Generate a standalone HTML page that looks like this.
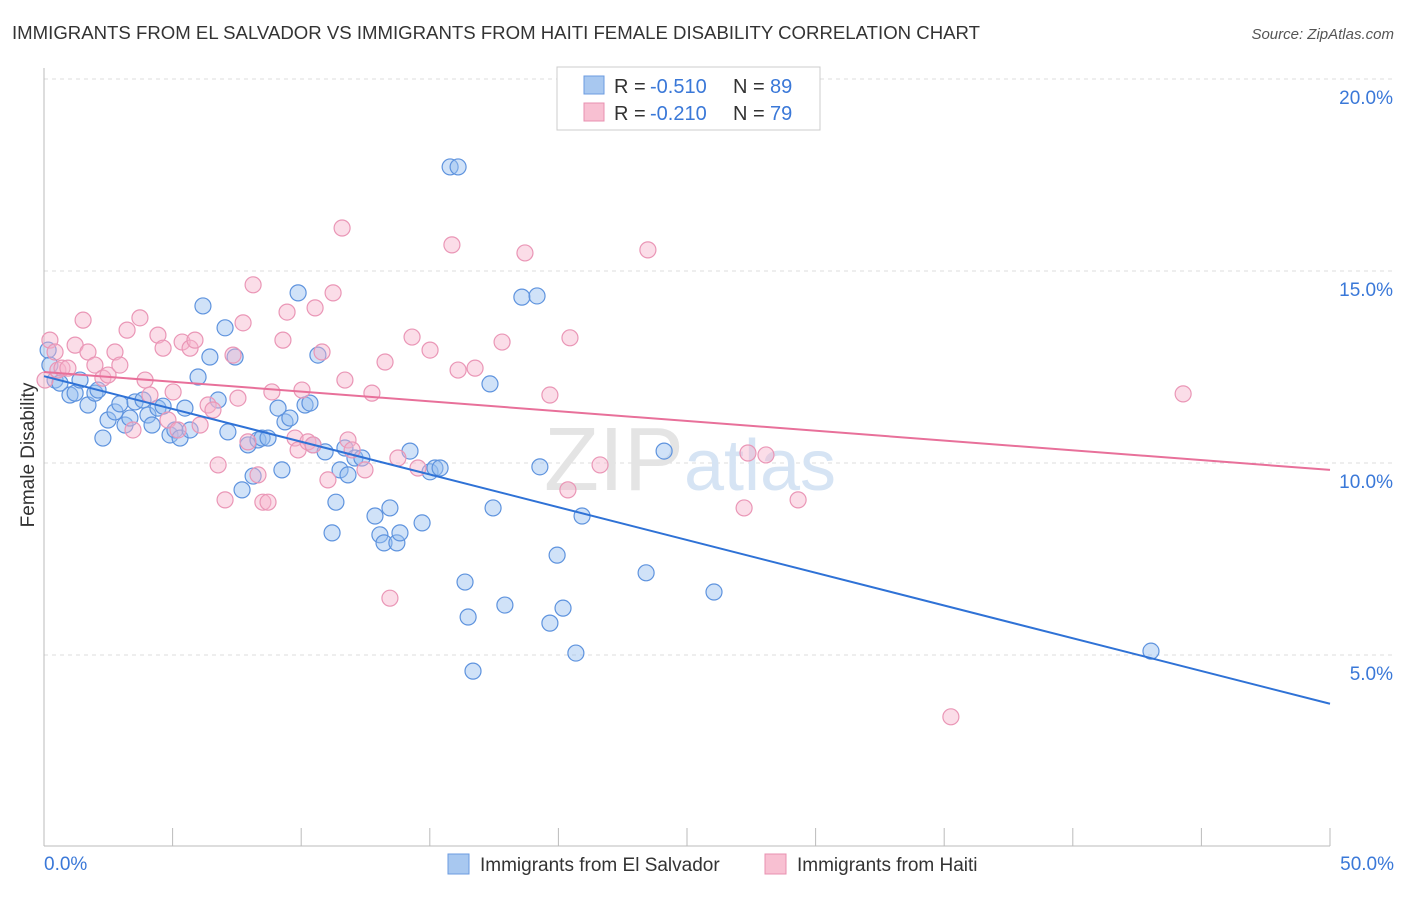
<!DOCTYPE html>
<html><head><meta charset="utf-8"><style>
body{margin:0;background:#fff;font-family:"Liberation Sans",sans-serif;}
svg text{font-family:"Liberation Sans",sans-serif;}
</style></head><body>
<svg id="chart" width="1406" height="892" viewBox="0 0 1406 892">
<text x="12" y="39" font-size="18" fill="#333" textLength="968" lengthAdjust="spacingAndGlyphs">IMMIGRANTS FROM EL SALVADOR VS IMMIGRANTS FROM HAITI FEMALE DISABILITY CORRELATION CHART</text>
<text x="1394" y="39" font-size="15" fill="#555" font-style="italic" text-anchor="end">Source: ZipAtlas.com</text>
<g id="grid"></g>
<text x="690" y="490" font-size="90" fill="#e4e4e4" text-anchor="middle" font-family="Liberation Serif">ZIP<tspan fill="#d6e4f4" font-family="Liberation Sans" font-size="72">atlas</tspan></text>
<text x="34" y="455" font-size="19" fill="#333" transform="rotate(-90 34 455)" text-anchor="middle">Female Disability</text>
<g id="points"></g>
<g id="lines"></g>
<g>
<rect x="557" y="67" width="263" height="63" fill="#fff" stroke="#ccc"/>
<rect x="584" y="76" width="20" height="18" fill="#a8c8f0" stroke="#6b9be0"/>
<text x="614" y="93" font-size="20" fill="#333">R =</text>
<text x="650" y="93" font-size="20" fill="#3a78d8">-0.510</text>
<text x="733" y="93" font-size="20" fill="#333">N =</text>
<text x="770" y="93" font-size="20" fill="#3a78d8">89</text>
<rect x="584" y="103" width="20" height="18" fill="#f8c0d2" stroke="#e890b0"/>
<text x="614" y="120" font-size="20" fill="#333">R =</text>
<text x="650" y="120" font-size="20" fill="#3a78d8">-0.210</text>
<text x="733" y="120" font-size="20" fill="#333">N =</text>
<text x="770" y="120" font-size="20" fill="#3a78d8">79</text>
</g>
<g>
<rect x="448" y="854" width="21" height="20" fill="#a8c8f0" stroke="#6b9be0"/>
<text x="480" y="871" font-size="19" fill="#333">Immigrants from El Salvador</text>
<rect x="765" y="854" width="21" height="20" fill="#f8c0d2" stroke="#e890b0"/>
<text x="797" y="871" font-size="19" fill="#333">Immigrants from Haiti</text>
</g>
</svg>
<script>
const blueX=[0.16,0.23,0.43,0.62,1.01,1.21,1.40,1.71,1.98,2.10,2.29,2.49,2.76,2.95,3.15,3.34,3.54,3.85,4.04,4.20,4.43,4.63,4.90,5.09,5.29,5.48,5.68,5.99,6.18,6.45,6.77,7.04,7.15,7.43,7.70,7.93,8.13,8.32,8.48,8.71,9.10,9.25,9.37,9.56,9.88,10.15,10.34,10.46,10.65,10.93,11.35,11.51,11.20,11.70,11.82,12.09,12.36,12.87,13.06,13.22,13.45,13.72,13.84,14.23,14.70,15.01,15.20,15.40,15.79,16.10,16.37,16.49,16.68,17.34,17.46,17.92,18.58,19.17,19.28,19.67,19.95,20.18,20.68,20.92,23.41,24.11,26.05,43.04];
const blueY=[12.94,12.55,12.16,12.08,11.77,11.82,12.16,11.51,11.82,11.90,10.65,11.12,11.33,11.54,10.99,11.17,11.59,11.64,11.25,10.99,11.43,11.48,10.73,10.86,10.65,11.43,10.86,12.24,14.09,12.76,11.64,13.52,10.81,12.76,9.30,10.47,9.66,10.60,10.65,10.65,11.43,9.82,11.07,11.17,14.43,11.51,11.56,10.47,12.81,10.29,8.98,9.82,8.18,10.39,9.69,10.13,10.13,8.62,8.13,7.92,8.83,7.92,8.18,10.31,8.44,9.77,9.87,9.87,17.71,17.71,6.90,5.99,4.58,12.06,8.83,6.30,14.32,14.35,9.90,5.83,7.60,6.22,5.05,8.62,7.14,10.31,6.64,5.10];
const pinkX=[0.04,0.23,0.43,0.54,0.70,0.93,1.21,1.52,1.71,1.98,2.29,2.49,2.76,2.95,3.23,3.46,3.73,3.93,4.12,4.43,4.63,4.82,5.02,5.21,5.37,5.68,5.87,6.07,6.38,6.57,6.77,7.04,7.35,7.54,7.74,7.93,8.13,8.32,8.51,8.71,8.86,9.29,9.45,9.76,9.88,10.03,10.26,10.46,10.54,10.81,11.04,11.24,11.59,11.70,11.82,11.98,12.48,12.75,13.26,13.45,13.76,14.31,14.54,15.01,15.86,16.10,16.76,17.81,18.70,19.67,20.37,20.45,21.62,23.48,27.22,27.37,28.07,29.32,35.26,44.29,26.13];
const pinkY=[12.16,13.20,12.89,12.42,12.47,12.47,13.07,13.72,12.89,12.55,12.21,12.29,12.89,12.55,13.46,10.86,13.78,12.16,11.77,13.33,12.99,11.12,11.85,10.86,13.15,12.99,13.20,10.99,11.51,11.38,9.95,9.04,12.81,11.69,13.65,10.55,14.64,9.69,8.98,8.98,11.85,13.20,13.93,10.65,10.34,11.90,10.55,10.47,14.04,12.89,9.56,14.43,16.12,12.16,10.60,10.34,9.82,11.82,12.63,6.48,10.13,13.28,9.87,12.94,15.68,12.42,12.47,13.15,15.47,11.77,9.30,13.26,9.95,15.55,8.83,10.26,10.21,9.04,3.39,11.80,19.19];
const trendStart=[12.26,12.37];
const trendEnd=[3.73,9.82];
const yTicks=[5,10,15,20];
const xTickLabels=["0.0%","50.0%"];
const NS="http://www.w3.org/2000/svg";
const X=v=>44+v/50*1286, Y=v=>847-v*38.4;
function mk(t,a,p){const e=document.createElementNS(NS,t);for(const k in a)e.setAttribute(k,a[k]);p.appendChild(e);return e;}
const grid=document.getElementById('grid');
for(const t of yTicks){
 const l=mk('line',{x1:44,x2:1394,y1:Y(t),y2:Y(t),stroke:'#ddd','stroke-dasharray':'4,4'},grid);
 
 
 const tx=mk('text',{x:1393,y:Y(t)+25,'font-size':19,fill:'#3a78d8','text-anchor':'end'},grid);
 tx.textContent=t.toFixed(1)+'%';
 
 
}
mk('line',{x1:44,x2:44,y1:68,y2:846,stroke:'#bbb'},grid);
mk('line',{x1:44,x2:1330,y1:846,y2:846,stroke:'#bbb'},grid);
for(let i=0;i<=10;i++){const x=X(i*5);const tk=mk('line',{x1:x,x2:x,y1:828,y2:846,stroke:'#bbb'},grid);
 
 }
const xl0=mk('text',{x:44,y:870,'font-size':19,fill:'#3a78d8'},grid);xl0.textContent=xTickLabels[0];


const xl1=mk('text',{x:1394,y:870,'font-size':19,fill:'#3a78d8','text-anchor':'end'},grid);xl1.textContent=xTickLabels[1];


const pts=document.getElementById('points');
blueX.forEach((v,i)=>{const c=mk('circle',{cx:X(v),cy:Y(blueY[i]),r:8,fill:'rgba(150,190,240,0.45)',stroke:'#5e93de','stroke-width':1.2},pts);
 
 });
pinkX.forEach((v,i)=>{const c=mk('circle',{cx:X(v),cy:Y(pinkY[i]),r:8,fill:'rgba(246,180,204,0.45)',stroke:'#ea96b6','stroke-width':1.2},pts);
 
 });
const lines=document.getElementById('lines');
const cols=['#2f72d6','#e8709a'];
for(let i=0;i<2;i++){const l=mk('line',{x1:X(0),y1:Y(trendStart[i]),x2:X(50),y2:Y(trendEnd[i]),stroke:cols[i],'stroke-width':2},lines);
 
 }
</script>
</body></html>
